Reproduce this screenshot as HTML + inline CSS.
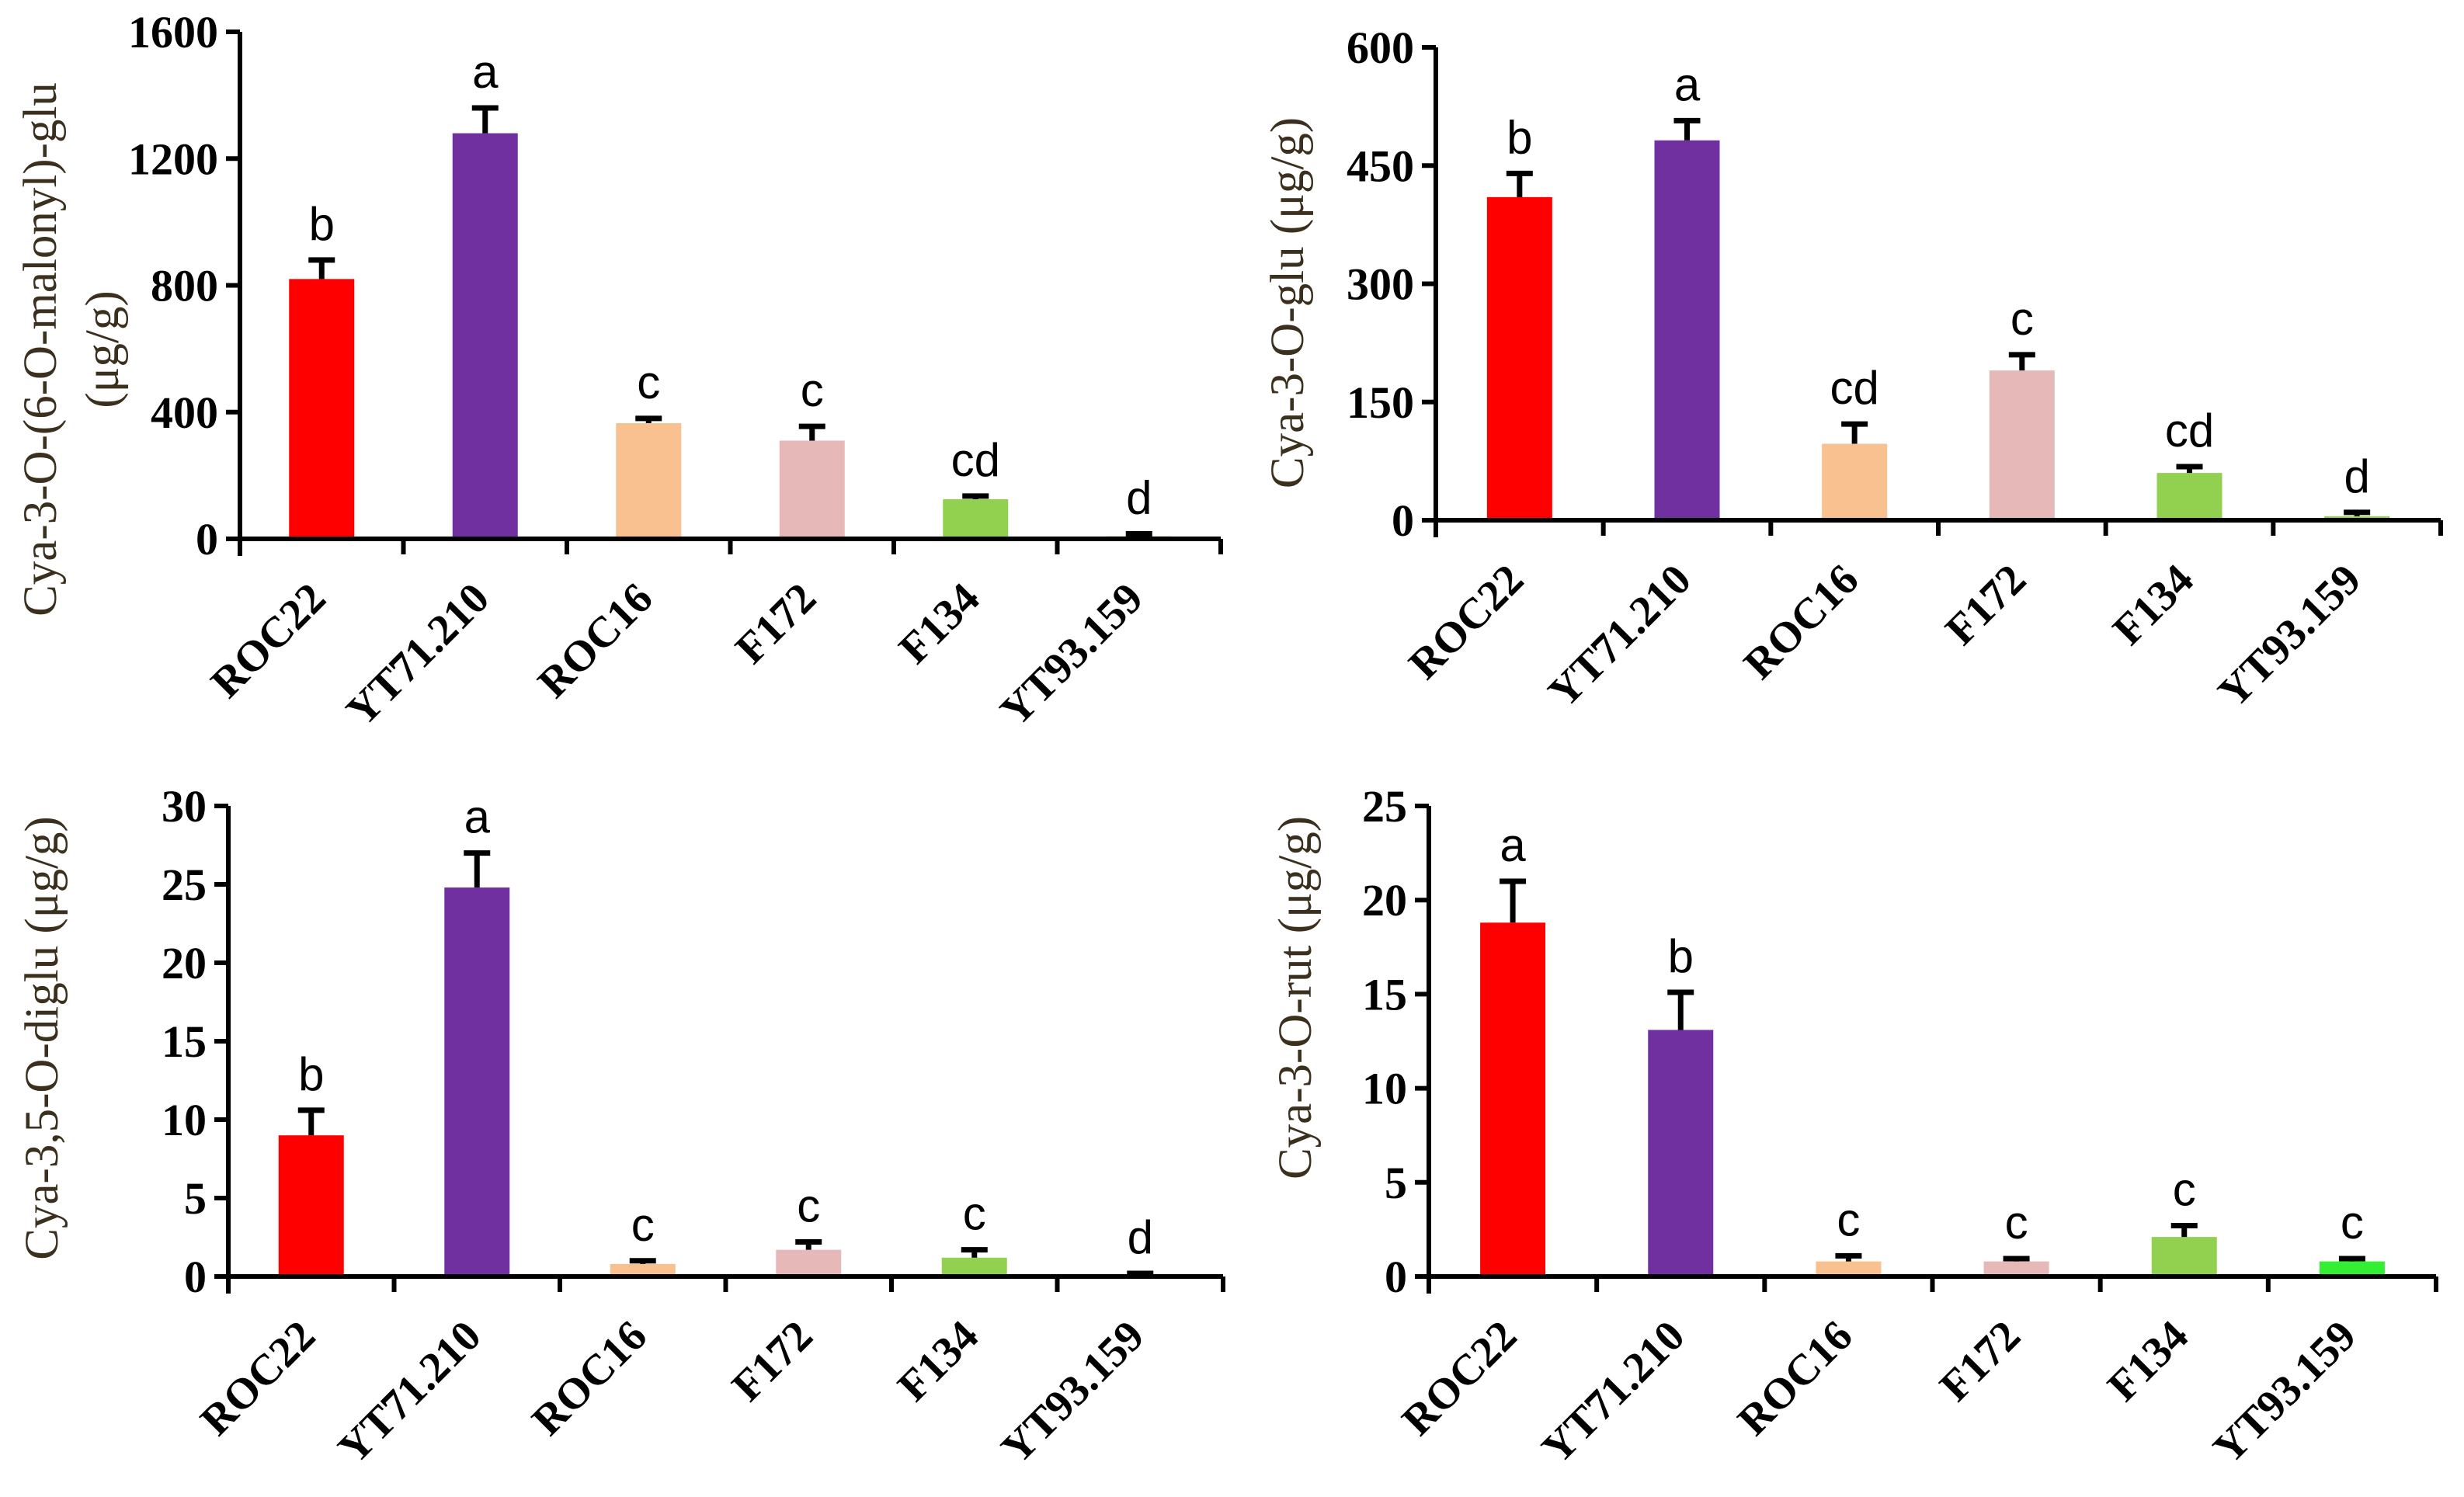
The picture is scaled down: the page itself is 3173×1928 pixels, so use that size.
<!DOCTYPE html>
<html><head><meta charset="utf-8"><style>
html,body{margin:0;padding:0;background:#fff;}
svg{display:block;}
.tick{font-family:"Liberation Serif",serif;font-weight:bold;font-size:58px;fill:#000;}
.xl{font-family:"Liberation Serif",serif;font-weight:bold;font-size:56px;fill:#000;}
.let{font-family:"Liberation Sans",sans-serif;font-size:60px;fill:#000;}
.yt{font-family:"Liberation Serif",serif;font-size:61px;fill:#3b2f1e;}
</style></head><body>
<svg id="chart" width="3173" height="1928" viewBox="0 0 3173 1928" xmlns="http://www.w3.org/2000/svg"></svg>
<script>
const categories = ["ROC22","YT71.210","ROC16","F172","F134","YT93.159"];
const colorsA = ["#ff0000","#7030a0","#f9c090","#e6b8b7","#92d050","#92d050"];
const colorsB = ["#ff0000","#7030a0","#f9c090","#e6b8b7","#92d050","#33ee33"];

const valuesMalonyl = [820,1280,365,310,125,8];
const errorsMalonyl = [60,80,15,45,10,8];
const lettersMalonyl = ["b","a","c","c","cd","d"];
const ticksMalonyl = [0,400,800,1200,1600];

const valuesGlu = [410,482,97,190,60,5];
const errorsGlu = [30,25,25,20,8,5];
const lettersGlu = ["b","a","cd","c","cd","d"];
const ticksGlu = [0,150,300,450,600];

const valuesDiglu = [9,24.8,0.8,1.7,1.2,0.1];
const errorsDiglu = [1.6,2.2,0.2,0.5,0.5,0.1];
const lettersDiglu = ["b","a","c","c","c","d"];
const ticksDiglu = [0,5,10,15,20,25,30];

const valuesRut = [18.8,13.1,0.8,0.8,2.1,0.8];
const errorsRut = [2.2,2.0,0.3,0.15,0.6,0.15];
const lettersRut = ["a","b","c","c","c","c"];
const ticksRut = [0,5,10,15,20,25];

const NS="http://www.w3.org/2000/svg";
const svg=document.getElementById('chart');
function mk(tag,attrs,parent){const e=document.createElementNS(NS,tag);for(const k in attrs)e.setAttribute(k,attrs[k]);(parent||svg).appendChild(e);return e;}

function panel(name,ax,y0,yTop,xEnd,vals,errs,lets,ticks,colors,titleLines,tx,ty){
  const g=mk('g',{});
  
  
  const vmax=ticks[ticks.length-1];
  const ys=v=>y0-(v/vmax)*(y0-yTop);
  const step=(xEnd-ax)/6;
  const xs=i=>ax+step*(i+0.5);
  const bw=84;
  vals.forEach((v,i)=>{
    const r=mk('rect',{x:xs(i)-bw/2,y:ys(v),width:bw,height:y0-ys(v),fill:colors[i]},g);
    
    
    const top=ys(v+errs[i]);
    const e=mk('path',{d:`M${xs(i)} ${ys(v)}V${top}M${xs(i)-17} ${top}H${xs(i)+17}`,stroke:'#000','stroke-width':7,fill:'none'},g);
    
    
    const t=mk('text',{x:xs(i),y:top-26,'text-anchor':'middle',class:'let'},g);
    t.textContent=lets[i];
    
    
    const xl=mk('text',{x:0,y:0,'text-anchor':'end',class:'xl',transform:`translate(${xs(i)+8},${y0+80}) rotate(-45)`},g);
    xl.textContent=categories[i];
    
    
  });
  const axes=mk('path',{d:`M${ax} ${yTop}V${y0+22}M${ax-18} ${y0}H${xEnd}`,stroke:'#000','stroke-width':6,fill:'none'},g);
  
  
  ticks.forEach(t=>{
    mk('path',{d:`M${ax-18} ${ys(t)}H${ax}`,stroke:'#000','stroke-width':6},g);
    const lab=mk('text',{x:ax-28,y:ys(t)+20,'text-anchor':'end',class:'tick'},g);
    lab.textContent=t;
    
    
  });
  for(let i=1;i<=6;i++) mk('path',{d:`M${ax+step*i} ${y0}V${y0+20}`,stroke:'#000','stroke-width':6},g);
  titleLines.forEach((ln,k)=>{
    const yt=mk('text',{x:0,y:0,'text-anchor':'middle',class:'yt',transform:`translate(${tx+k*80},${ty}) rotate(-90)`},g);
    yt.textContent=ln;
    
    
  });
}
panel('panel-malonyl-glu',309,694,41,1572,valuesMalonyl,errorsMalonyl,lettersMalonyl,ticksMalonyl,colorsA,["Cya-3-O-(6-O-malonyl)-glu","(μg/g)"],72,450);
panel('panel-glu',1849,670,61,3143,valuesGlu,errorsGlu,lettersGlu,ticksGlu,colorsA,["Cya-3-O-glu (μg/g)"],1678,390);
panel('panel-diglu',294,1644,1038,1575,valuesDiglu,errorsDiglu,lettersDiglu,ticksDiglu,colorsA,["Cya-3,5-O-diglu (μg/g)"],74,1337);
panel('panel-rut',1840,1644,1038,3137,valuesRut,errorsRut,lettersRut,ticksRut,colorsB,["Cya-3-O-rut (μg/g)"],1688,1285);
</script>
</body></html>
